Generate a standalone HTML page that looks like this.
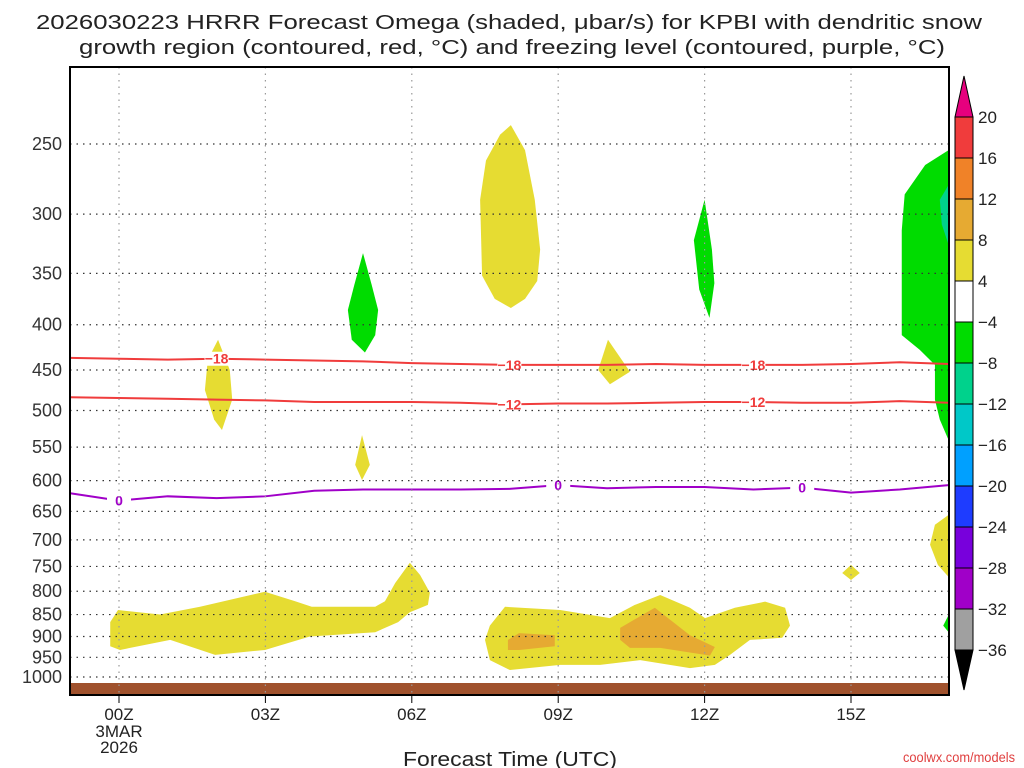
<!DOCTYPE html>
<html><head><meta charset="utf-8"><style>
body{margin:0;background:#fff;}
svg{display:block;font-family:"Liberation Sans",sans-serif;}
</style></head><body>
<svg id="chart" width="1024" height="768" viewBox="0 0 1024 768" xmlns="http://www.w3.org/2000/svg">
<text x="509" y="29" font-size="20" text-anchor="middle" textLength="946" lengthAdjust="spacingAndGlyphs" fill="#222">2026030223 HRRR Forecast Omega (shaded, μbar/s) for KPBI with dendritic snow</text>
<text x="512" y="54" font-size="20" text-anchor="middle" textLength="866" lengthAdjust="spacingAndGlyphs" fill="#222">growth region (contoured, red, °C) and freezing level (contoured, purple, °C)</text>
<g id="plot"></g>
<text x="510" y="766" font-size="20" text-anchor="middle" textLength="214" lengthAdjust="spacingAndGlyphs" fill="#222">Forecast Time (UTC)</text>
<text x="1015" y="762" font-size="14" text-anchor="end" textLength="112" lengthAdjust="spacingAndGlyphs" fill="#e04040">coolwx.com/models</text>
</svg>
<script>
const pressureTicks=[250,300,350,400,450,500,550,600,650,700,750,800,850,900,950,1000];
const hourTicks=[0,3,6,9,12,15];
const hourLabels=['00Z','03Z','06Z','09Z','12Z','15Z'];
const cbLevels=[20,16,12,8,4,-4,-8,-12,-16,-20,-24,-28,-32,-36];
const cbColors=['#f03c3c','#f08228','#e6aa32','#e6dc32','#ffffff','#00dc00','#00d28c','#00c8c8','#00a0ff','#1e3cff','#7800dc','#a000c8','#a0a0a0'];
const yellowShapes=[
 [[8.03,238],[8.32,254],[8.52,289],[8.63,329],[8.57,357],[8.32,374],[8.03,383],[7.70,374],[7.44,352],[7.40,289],[7.52,261],[7.81,244]],
 [[2.03,416],[2.27,450],[2.32,486],[2.11,526],[1.95,512],[1.76,474],[1.82,438]],
 [[10.02,416],[10.47,452],[10.06,467],[9.82,450]],
 [[4.98,533],[5.14,576],[4.98,599],[4.84,576]],
 [[15.0,747],[15.18,763],[15.0,777],[14.82,763]],
 [[17.0,656],[16.72,673],[16.62,709],[16.78,747],[17.0,771]],
 [[-0.18,867],[-0.02,840],[0.84,850],[1.66,833],[2.99,801],[3.61,821],[3.95,833],[5.25,833],[5.45,821],[5.66,783],[5.96,743],[6.17,767],[6.37,803],[6.33,829],[5.96,845],[5.72,867],[5.25,890],[3.91,900],[2.99,932],[1.97,944],[1.05,908],[0.02,932],[-0.18,923]],
 [[7.60,875],[7.91,833],[9.04,840],[10.06,858],[10.57,829],[11.09,808],[11.70,835],[12.01,858],[12.62,835],[13.24,822],[13.65,835],[13.75,875],[13.59,903],[12.93,908],[12.52,944],[12.21,969],[11.70,977],[10.68,957],[9.86,969],[9.04,969],[8.01,982],[7.60,957],[7.50,908]]
];
const orangeShapes=[
 [[7.97,908],[8.20,892],[8.93,897],[8.93,923],[8.20,932],[7.97,932]],
 [[10.27,880],[10.98,835],[11.70,897],[12.21,925],[12.11,946],[11.09,927],[10.47,927],[10.27,908]]
];
const greenShapes=[
 [[5.0,332],[5.18,361],[5.31,385],[5.25,411],[5.04,430],[4.77,416],[4.69,385],[4.82,361]],
 [[12.0,289],[12.15,329],[12.2,359],[12.1,393],[11.89,365],[11.78,321]],
 [[17.0,254],[16.52,264],[16.1,285],[16.04,313],[16.04,411],[16.41,427],[16.72,444],[16.72,486],[16.82,512],[17.0,540]],
 [[17.0,851],[16.89,875],[17.0,890]]
];
const tealShapes=[[[17.0,278],[16.82,289],[16.86,308],[17.0,325]]];
const lineHours=[-1,0,1,2,3,4,5,6,7,8,9,10,11,12,13,14,15,16,17];
const contourM18=[436,437,438,437,438,439,440,442,443,444,444,444,443,444,444,444,443,441,443];
const contourM12=[483,484,485,486,487,489,489,489,490,492,491,491,490,489,489,490,490,488,490];
const contour0=[620,632,625,628,625,616,614,614,614,613,607,612,610,610,614,611,619,614,607];
const labelsM18=[2,8,13];const labelsM12=[8,13];const labels0=[0,9,14];

const L=70,R=949,T=67,B=695;
const xOf=h=>119+h*48.8;
const yOf=p=>144+(Math.log(p)-Math.log(250))*384.5;
const NS='http://www.w3.org/2000/svg';
const g=document.getElementById('plot');
function mk(tag,attrs,parent){const e=document.createElementNS(NS,tag);for(const k in attrs)e.setAttribute(k,attrs[k]);(parent||g).appendChild(e);return e;}
const cp=mk('clipPath',{id:'clip'});mk('rect',{x:L,y:T,width:R-L,height:B-T},cp);
const area=mk('g',{'clip-path':'url(#clip)'});
function shapes(list,color,name){list.forEach(s=>{const e=mk('polygon',{points:s.map(q=>xOf(q[0])+','+yOf(q[1])).join(' '),fill:color},area);

});}
shapes(greenShapes,'#00dc00','omega-green-region');
shapes(tealShapes,'#00d28c','omega-teal-region');
shapes(yellowShapes,'#e6dc32','omega-yellow-region');
shapes(orangeShapes,'#e6aa32','omega-orange-region');
pressureTicks.forEach(p=>{const y=yOf(p);const e=mk('line',{x1:L,x2:R,y1:y,y2:y,stroke:'#333','stroke-width':1.2,'stroke-dasharray':'1.5 5'});


const t=mk('text',{x:62,y:y+6,'font-size':18,'text-anchor':'end',fill:'#333'});t.textContent=p;

});
hourTicks.forEach((h,i)=>{const x=xOf(h);const e=mk('line',{x1:x,x2:x,y1:T,y2:B,stroke:'#999','stroke-width':1.2,'stroke-dasharray':'1.5 5'});


mk('line',{x1:x,x2:x,y1:B,y2:B+8,stroke:'#000'});
const t=mk('text',{x:x,y:B+25,'font-size':17,'text-anchor':'middle',fill:'#222'});t.textContent=hourLabels[i];

});
['3MAR','2026'].forEach((s,i)=>{const t=mk('text',{x:xOf(0),y:B+42+i*16,'font-size':17,'text-anchor':'middle',fill:'#222'});t.textContent=s;

});
const gr=mk('rect',{x:L,y:683,width:R-L,height:12,fill:'#a0522d'},area);


function contour(vals,color,labHours,label,name){
 const pl=mk('polyline',{points:lineHours.map((h,i)=>xOf(h)+','+yOf(vals[i])).join(' '),fill:'none',stroke:color,'stroke-width':2},area);
 
 
 labHours.forEach(h=>{const i=lineHours.indexOf(h);const x=xOf(h),y=yOf(vals[i]);
  mk('rect',{x:x-12,y:y-7,width:24,height:14,fill:'#fff'},area);
  const t=mk('text',{x:x,y:y+5,'font-size':14,'font-weight':'bold','text-anchor':'middle',fill:color},area);t.textContent=label;
  
  });
}
contour(contourM18,'#f03c3c',labelsM18,'−18','contour-minus18');
contour(contourM12,'#f03c3c',labelsM12,'−12','contour-minus12');
contour(contour0,'#a000c8',labels0,'0','freezing-level-contour');
const fr=mk('rect',{x:L,y:T,width:R-L,height:B-T,fill:'none',stroke:'#000','stroke-width':2});


const cx=955,cw=18,cTop=117,step=(650-117)/13;
const cb=mk('g',{});


mk('polygon',{points:`${cx},${cTop} ${cx+cw},${cTop} ${cx+cw/2},76`,fill:'#e6007e',stroke:'#000'},cb);
mk('polygon',{points:`${cx},650 ${cx+cw},650 ${cx+cw/2},690`,fill:'#000',stroke:'#000'},cb);
cbColors.forEach((c,i)=>mk('rect',{x:cx,y:cTop+i*step,width:cw,height:step,fill:c,stroke:'#000','stroke-width':1},cb));
cbLevels.forEach((v,i)=>{const t=mk('text',{x:978,y:cTop+i*step+6,'font-size':17,fill:'#222'},cb);t.textContent=v<0?'−'+(-v):v;

});
</script>
</body></html>
